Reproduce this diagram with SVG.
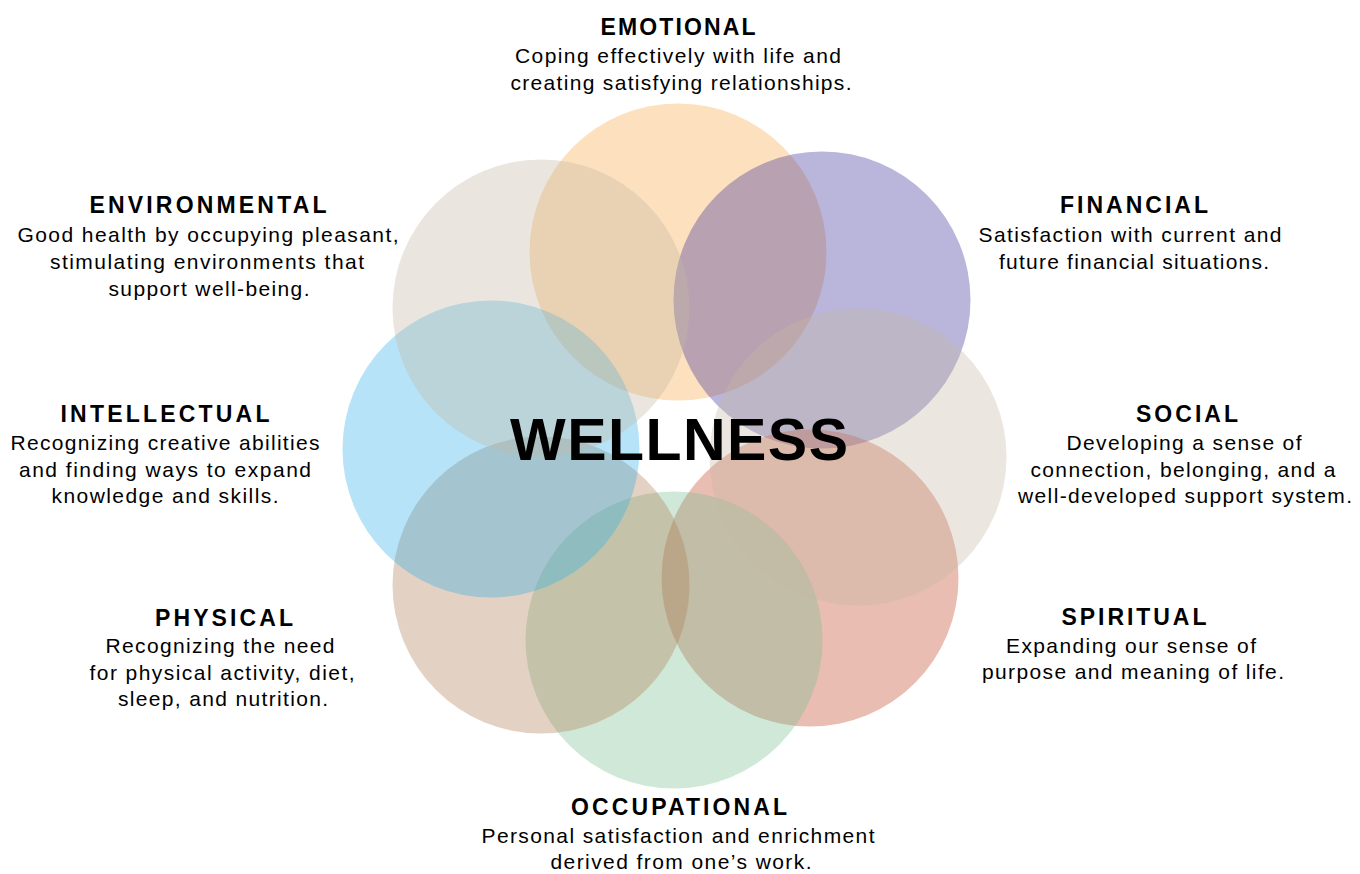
<svg xmlns="http://www.w3.org/2000/svg" width="1360" height="874" viewBox="0 0 1360 874">
<style>
.c{fill-opacity:0.35;stroke:none}
.t{font-family:"Liberation Sans",Arial,sans-serif;font-weight:bold;font-size:23px;fill:#000;text-anchor:middle}
.b{font-family:"Liberation Sans",Arial,sans-serif;font-size:21px;fill:#000;text-anchor:middle}
.w{font-family:"Liberation Sans",Arial,sans-serif;font-weight:bold;font-size:59px;fill:#000;text-anchor:middle}
</style>
<rect width="1360" height="874" fill="#fff"/>
<g id="circles">
<circle id="c-emotional" class="c" cx="678" cy="252" r="148.5" fill="#f9a645"/>
<circle id="c-financial" class="c" cx="822" cy="300" r="148.5" fill="#372c98"/>
<circle id="c-spiritual" class="c" cx="810" cy="578" r="148.5" fill="#c04223"/>
<circle id="c-occupational" class="c" cx="674" cy="640" r="148.5" fill="#79bd90"/>
<circle id="c-physical" class="c" cx="541" cy="585" r="148.5" fill="#af7e56"/>
<circle id="c-intellectual" class="c" cx="491" cy="449" r="148.5" fill="#2eafe8"/>
<circle id="c-environmental" class="c" cx="541" cy="308" r="148.5" fill="#c3b8a4"/>
<circle id="c-social" class="c" cx="858" cy="457" r="148.5" fill="#c6b8a4"/>
</g>
<g id="connectors"/>
<g id="center"><text class="w" x="679" y="460" textLength="338" lengthAdjust="spacing">WELLNESS</text></g>
<g id="emotional">
<text class="t" x="678" y="35" textLength="155" lengthAdjust="spacing">EMOTIONAL</text>
<text class="b" x="678" y="63" textLength="326" lengthAdjust="spacing">Coping effectively with life and</text>
<text class="b" x="681" y="90" textLength="341" lengthAdjust="spacing">creating satisfying relationships.</text>
</g>
<g id="environmental">
<text class="t" x="208" y="213" textLength="237" lengthAdjust="spacing">ENVIRONMENTAL</text>
<text class="b" x="208" y="242" textLength="381" lengthAdjust="spacing">Good health by occupying pleasant,</text>
<text class="b" x="207" y="269" textLength="314" lengthAdjust="spacing">stimulating environments that</text>
<text class="b" x="209" y="296" textLength="201" lengthAdjust="spacing">support well-being.</text>
</g>
<g id="financial">
<text class="t" x="1134" y="213" textLength="148" lengthAdjust="spacing">FINANCIAL</text>
<text class="b" x="1130" y="242" textLength="303" lengthAdjust="spacing">Satisfaction with current and</text>
<text class="b" x="1134" y="269" textLength="270" lengthAdjust="spacing">future financial situations.</text>
</g>
<g id="intellectual">
<text class="t" x="165" y="422" textLength="209" lengthAdjust="spacing">INTELLECTUAL</text>
<text class="b" x="165" y="450" textLength="309" lengthAdjust="spacing">Recognizing creative abilities</text>
<text class="b" x="165" y="477" textLength="292" lengthAdjust="spacing">and finding ways to expand</text>
<text class="b" x="165" y="503" textLength="227" lengthAdjust="spacing">knowledge and skills.</text>
</g>
<g id="social">
<text class="t" x="1187" y="422" textLength="102" lengthAdjust="spacing">SOCIAL</text>
<text class="b" x="1184" y="450" textLength="235" lengthAdjust="spacing">Developing a sense of</text>
<text class="b" x="1183" y="477" textLength="305" lengthAdjust="spacing">connection, belonging, and a</text>
<text class="b" x="1185" y="503" textLength="334" lengthAdjust="spacing">well-developed support system.</text>
</g>
<g id="physical">
<text class="t" x="224" y="626" textLength="138" lengthAdjust="spacing">PHYSICAL</text>
<text class="b" x="220" y="653" textLength="229" lengthAdjust="spacing">Recognizing the need</text>
<text class="b" x="222" y="680" textLength="265" lengthAdjust="spacing">for physical activity, diet,</text>
<text class="b" x="223" y="706" textLength="210" lengthAdjust="spacing">sleep, and nutrition.</text>
</g>
<g id="spiritual">
<text class="t" x="1134" y="625" textLength="145" lengthAdjust="spacing">SPIRITUAL</text>
<text class="b" x="1131" y="653" textLength="250" lengthAdjust="spacing">Expanding our sense of</text>
<text class="b" x="1133" y="679" textLength="302" lengthAdjust="spacing">purpose and meaning of life.</text>
</g>
<g id="occupational">
<text class="t" x="679" y="815" textLength="216" lengthAdjust="spacing">OCCUPATIONAL</text>
<text class="b" x="678" y="843" textLength="393" lengthAdjust="spacing">Personal satisfaction and enrichment</text>
<text class="b" x="681" y="869" textLength="261" lengthAdjust="spacing">derived from one’s work.</text>
</g>
</svg>
